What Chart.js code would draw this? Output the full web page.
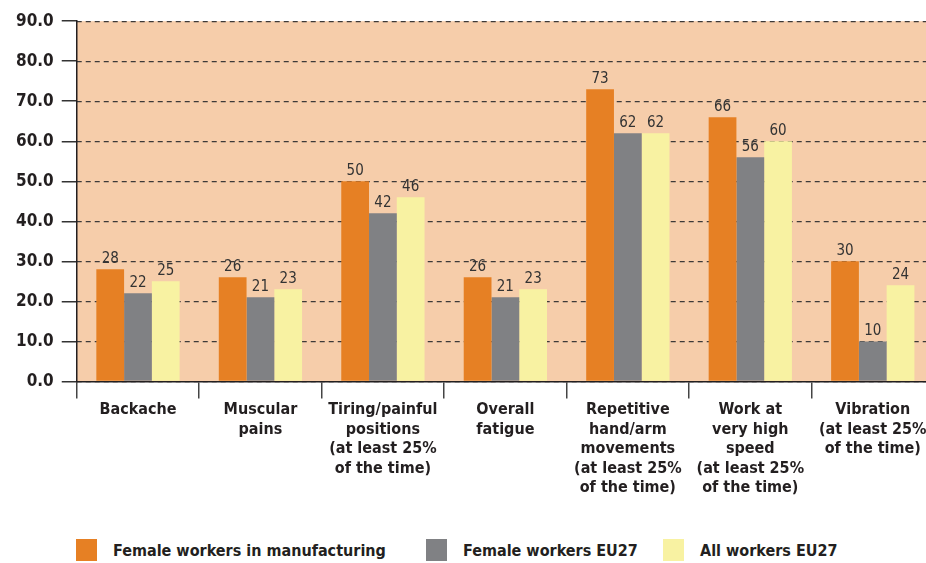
<!DOCTYPE html>
<html>
<head>
<meta charset="utf-8">
<script src="https://cdn.jsdelivr.net/npm/chart.js@4.4.0/dist/chart.umd.min.js"></script>
<style>
  html, body { margin: 0; padding: 0; background: #fff; overflow: hidden; }
  #wrap { position: relative; width: 926px; height: 563px; overflow: hidden; }
  #chart-box { position: absolute; left: 0; top: 3px; width: 934px; height: 497px; }
  #legend {
    position: absolute; left: 76px; top: 539px; display: flex;
    font: bold 16px "Liberation Sans Narrow", "DejaVu Sans Condensed", "Roboto Condensed", sans-serif;
    color: #231f20;
  }
  .legend-item { display: flex; align-items: center; height: 22px; }
  .legend-box { width: 21px; height: 22px; margin-right: 16px; }
</style>
</head>
<body>
<div id="wrap">
  <div id="chart-box"><canvas id="chart"></canvas></div>
  <div id="legend"></div>
</div>
<script>
// Work-related health problems and working conditions (%)

var categories = [
  ['Backache'],
  ['Muscular', 'pains'],
  ['Tiring/painful', 'positions', '(at least 25%', 'of the time)'],
  ['Overall', 'fatigue'],
  ['Repetitive', 'hand/arm', 'movements', '(at least 25%', 'of the time)'],
  ['Work at', 'very high', 'speed', '(at least 25%', 'of the time)'],
  ['Vibration', '(at least 25%', 'of the time)'],
];

var seriesNames = [
  'Female workers in manufacturing',
  'Female workers EU27',
  'All workers EU27',
];

var femaleManufacturing = [28, 26, 50, 26, 73, 66, 30];
var femaleEU27 = [22, 21, 42, 21, 62, 56, 10];
var allWorkersEU27 = [25, 23, 46, 23, 62, 60, 24];

var yTicks = [0, 10, 20, 30, 40, 50, 60, 70, 80, 90];

var seriesColors = ['#e68024', '#808184', '#f8f2a2'];
var ink = '#231f20';
var fontFamily = '"Liberation Sans Narrow", "DejaVu Sans Condensed", "Roboto Condensed", sans-serif';

// Peach fill behind the plot area
var plotBackground = {
  id: 'plotBackground',
  beforeDraw: function (chart) {
    var a = chart.chartArea;
    var ctx = chart.ctx;
    ctx.save();
    ctx.fillStyle = '#f6cdaa';
    ctx.fillRect(a.left, a.top, a.right - a.left, a.bottom - a.top);
    ctx.restore();
  },
};

// Value printed above each bar
var barValues = {
  id: 'barValues',
  afterDatasetsDraw: function (chart) {
    var ctx = chart.ctx;
    ctx.save();
    ctx.font = '15px ' + fontFamily;
    ctx.fillStyle = '#333';
    ctx.textAlign = 'center';
    ctx.textBaseline = 'bottom';
    chart.data.datasets.forEach(function (ds, i) {
      chart.getDatasetMeta(i).data.forEach(function (bar, j) {
        ctx.fillText(String(ds.data[j]), bar.x, bar.y - 3);
      });
    });
    ctx.restore();
  },
};

var datasets = [femaleManufacturing, femaleEU27, allWorkersEU27].map(function (values, i) {
  return {
    label: seriesNames[i],
    data: values,
    backgroundColor: seriesColors[i],
    borderWidth: 0,
    categoryPercentage: 0.68,
    barPercentage: 1,
  };
});

new Chart(document.getElementById('chart'), {
  type: 'bar',
  data: { labels: categories, datasets: datasets },
  plugins: [plotBackground, barValues],
  options: {
    responsive: true,
    maintainAspectRatio: false,
    animation: false,
    layout: { padding: { top: 12, left: 8, right: 0, bottom: 0 } },
    plugins: {
      legend: { display: false },
      tooltip: { enabled: false },
    },
    scales: {
      x: {
        grid: {
          offset: true,
          drawOnChartArea: false,
          tickLength: 17,
          color: '#444',
          lineWidth: 1.5,
        },
        border: { color: ink, width: 1.5 },
        ticks: {
          font: { family: fontFamily, size: 16, weight: 'bold', lineHeight: 1.22 },
          color: ink,
          padding: 2,
          maxRotation: 0,
          autoSkip: false,
        },
      },
      y: {
        min: 0,
        max: 90,
        afterBuildTicks: function (axis) {
          axis.ticks = yTicks.map(function (v) { return { value: v }; });
        },
        grid: {
          drawOnChartArea: false,
          tickLength: 15,
          color: '#333',
          lineWidth: 1.5,
        },
        border: { color: ink, width: 1.5 },
        ticks: {
          font: { family: fontFamily, size: 17, weight: 'bold' },
          color: ink,
          padding: 8,
          callback: function (v) { return Number(v).toFixed(1); },
        },
      },
      // dashed gridlines across the plot
      grid: {
        position: 'right',
        min: 0,
        max: 90,
        afterBuildTicks: function (axis) {
          axis.ticks = yTicks.map(function (v) { return { value: v }; });
        },
        afterFit: function (axis) { axis.width = 0; },
        ticks: { display: false },
        grid: { drawTicks: false, color: '#3d3a38', lineWidth: 1.3 },
        border: { display: false, dash: [5, 4] },
      },
    },
  },
});

// Legend row under the chart
var legend = document.getElementById('legend');
var itemWidths = [350, 237, null];
seriesNames.forEach(function (name, i) {
  var item = document.createElement('div');
  item.className = 'legend-item';
  if (itemWidths[i]) item.style.width = itemWidths[i] + 'px';
  var box = document.createElement('span');
  box.className = 'legend-box';
  box.style.background = seriesColors[i];
  var label = document.createElement('span');
  label.textContent = name;
  item.appendChild(box);
  item.appendChild(label);
  legend.appendChild(item);
});
</script>
</body>
</html>
